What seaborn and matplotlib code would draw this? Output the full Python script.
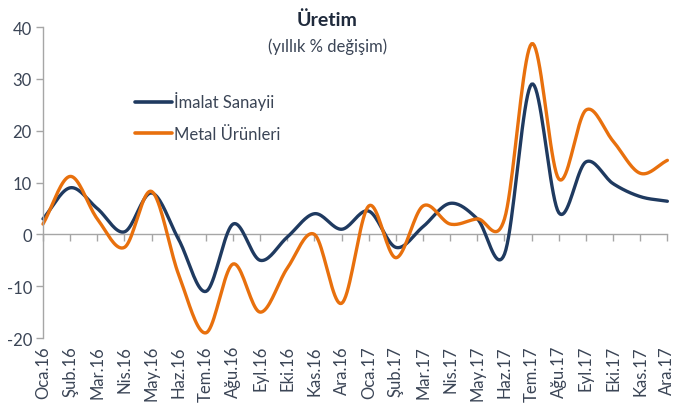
import numpy as np
import pandas as pd
import matplotlib
matplotlib.use("Agg")
import matplotlib.pyplot as plt
import seaborn as sns
from matplotlib.lines import Line2D

months = ["Oca.16", "Şub.16", "Mar.16", "Nis.16", "May.16", "Haz.16", "Tem.16", "Ağu.16",
          "Eyl.16", "Eki.16", "Kas.16", "Ara.16", "Oca.17", "Şub.17", "Mar.17", "Nis.17",
          "May.17", "Haz.17", "Tem.17", "Ağu.17", "Eyl.17", "Eki.17", "Kas.17", "Ara.17"]
imalat = [3.0, 9.0, 5.0, 0.5, 8.0, -1.0, -11.0, 2.0, -5.0, -0.5, 4.0, 1.0,
          4.5, -2.5, 1.5, 6.0, 3.0, -3.8, 29.0, 4.2, 14.0, 9.8, 7.3, 6.4]
metal = [2.0, 11.2, 3.0, -2.5, 8.3, -7.8, -19.0, -5.7, -15.0, -6.5, 0.0, -13.3,
         5.5, -4.5, 5.5, 2.0, 3.0, 3.0, 36.8, 10.7, 24.0, 18.0, 11.8, 14.3]
series_names = ["İmalat Sanayii", "Metal Ürünleri"]
colors = ["#1F3A60", "#E8700D"]
yticks = [-20, -10, 0, 10, 20, 30, 40]


def smooth(x, y, n=20):
    # Catmull-Rom smoothing similar to spreadsheet "smoothed line"
    x = np.asarray(x, float)
    y = np.asarray(y, float)
    px = np.concatenate([[2 * x[0] - x[1]], x, [2 * x[-1] - x[-2]]])
    py = np.concatenate([[2 * y[0] - y[1]], y, [2 * y[-1] - y[-2]]])
    xs, ys = [], []
    t = np.linspace(0, 1, n, endpoint=False)
    for i in range(1, len(px) - 2):
        p0, p1, p2, p3 = py[i - 1], py[i], py[i + 1], py[i + 2]
        q0, q1, q2, q3 = px[i - 1], px[i], px[i + 1], px[i + 2]
        b = (p1, p1 + (p2 - p0) / 6, p2 - (p3 - p1) / 6, p2)
        c = (q1, q1 + (q2 - q0) / 6, q2 - (q3 - q1) / 6, q2)
        bt = lambda a: ((1 - t) ** 3 * a[0] + 3 * (1 - t) ** 2 * t * a[1]
                        + 3 * (1 - t) * t ** 2 * a[2] + t ** 3 * a[3])
        xs.append(bt(c))
        ys.append(bt(b))
    xs.append([x[-1]])
    ys.append([y[-1]])
    return np.concatenate(xs), np.concatenate(ys)


sns.set_style("white")
plt.rcParams["font.family"] = ["Lato", "DejaVu Sans"]
text_color = "#3B4556"

fig = plt.figure(figsize=(6.75, 4.14), dpi=100)
ax = fig.add_axes([0.0637, 0.181, 0.925, 0.751])

xpos = np.arange(len(months))
frames = []
for name, vals in zip(series_names, [imalat, metal]):
    sx, sy = smooth(xpos, vals)
    frames.append(pd.DataFrame({"x": sx, "y": sy, "series": name}))
df = pd.concat(frames, ignore_index=True)

sns.lineplot(data=df, x="x", y="y", hue="series", palette=colors, sort=False,
             estimator=None, linewidth=2.4, ax=ax, legend=False)
for ln in ax.lines:
    ln.set_clip_on(False)
    ln.set_solid_capstyle("round")

ax.set_xlim(0, len(months) - 1)
ax.set_ylim(-20, 40)
ax.set_yticks(yticks)
ax.set_yticklabels([str(v) for v in yticks])
ax.set_xlabel("")
ax.set_ylabel("")

for s in ["top", "right"]:
    ax.spines[s].set_visible(False)
ax.spines["left"].set_color("#A6A6A6")
ax.spines["left"].set_linewidth(1.0)
ax.spines["bottom"].set_position(("data", 0))
ax.spines["bottom"].set_color("#A6A6A6")
ax.spines["bottom"].set_linewidth(1.0)
ax.spines["bottom"].set_zorder(0)

ax.tick_params(axis="y", direction="out", length=5, width=1, color="#A6A6A6",
               labelsize=12, labelcolor=text_color, pad=3, left=True)
ax.set_xticks(xpos)
ax.tick_params(axis="x", direction="out", length=5, width=1, color="#A6A6A6",
               labelbottom=False, bottom=True)

sec = ax.secondary_xaxis("bottom")
sec.set_xticks(xpos)
sec.set_xticklabels(months, rotation=90)
sec.tick_params(axis="x", length=0, labelsize=12, labelcolor=text_color, pad=5)
sec.spines["bottom"].set_visible(False)

fig.text(0.485, 0.952, "Üretim", ha="center", va="center", fontsize=14,
         fontweight="bold", color="#1F2A3C")
fig.text(0.485, 0.888, "(yıllık % değişim)", ha="center", va="center", fontsize=12,
         color=text_color)

handles = [Line2D([0], [0], color=c, linewidth=2.6) for c in colors]
leg = fig.legend(handles, series_names, loc="upper left", bbox_to_anchor=(0.19, 0.793),
                 frameon=False, fontsize=12, handlelength=2.25, handletextpad=0.1,
                 labelspacing=0.95, borderaxespad=0)
for t in leg.get_texts():
    t.set_color(text_color)

fig.savefig("out.png", dpi=100)
